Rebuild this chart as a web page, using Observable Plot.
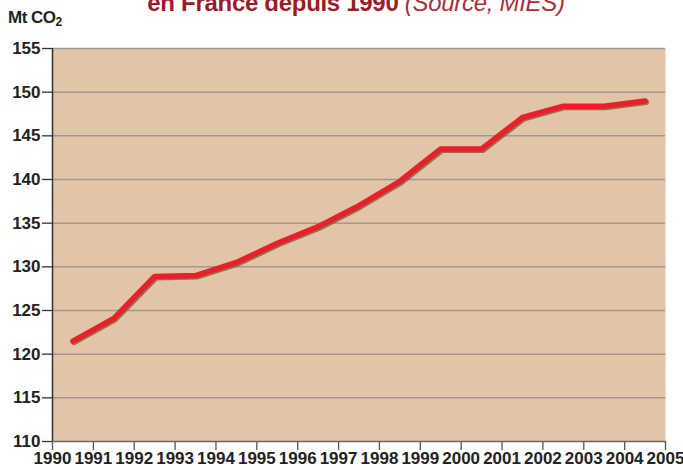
<!DOCTYPE html>
<html>
<head>
<meta charset="utf-8">
<script src="https://cdn.jsdelivr.net/npm/d3@7"></script>
<script src="https://cdn.jsdelivr.net/npm/@observablehq/plot@0.6"></script>
<style>
  html, body { margin: 0; padding: 0; background: #fff; }
  #wrap { position: relative; width: 683px; height: 470px; overflow: hidden; }
  #title { position: absolute; left: 0; width: 712px; top: -9px; text-align: center;
           font-family: "Liberation Sans", sans-serif; font-size: 24px; line-height: 24px;
           color: #9b1b2a; white-space: nowrap; letter-spacing: -0.3px; }
  #title b { font-weight: bold; }
  #title i { font-weight: normal; font-style: italic; color: #a8303a; }
  #ylab { position: absolute; left: 8px; top: 8px; font-family: "Liberation Sans", sans-serif;
          font-weight: bold; font-size: 17px; color: #222; letter-spacing: -0.5px; }
  #ylab sub { font-size: 12px; vertical-align: -3px; }
  #chart { position: absolute; left: 0; top: 0; }
</style>
</head>
<body>
<div id="wrap">
  <div id="chart"></div>
  <div id="title"><b>en France depuis 1990</b> <i>(Source, MIES)</i></div>
  <div id="ylab">Mt CO<sub>2</sub></div>
</div>
<script>
const years = [1990, 1991, 1992, 1993, 1994, 1995, 1996, 1997, 1998, 1999, 2000, 2001, 2002, 2003, 2004];
const emissions = [121.5, 124.1, 128.9, 129.0, 130.5, 132.7, 134.6, 137.0, 139.8, 143.5, 143.5, 147.1, 148.4, 148.4, 149.0];
const xTicks = [1990, 1991, 1992, 1993, 1994, 1995, 1996, 1997, 1998, 1999, 2000, 2001, 2002, 2003, 2004, 2005];
const yTicks = [110, 115, 120, 125, 130, 135, 140, 145, 150, 155];

const data = years.map((y, i) => ({year: y, value: emissions[i]}));
const xMid = d => d.year + 0.5;

const chart = Plot.plot({
  width: 683,
  height: 470,
  marginTop: 48,
  marginBottom: 29,
  marginLeft: 52,
  marginRight: 18,
  style: {fontFamily: "Liberation Sans, sans-serif", fontWeight: "bold", fontSize: "17px", color: "#222", background: "transparent"},
  x: {domain: [1990, 2005]},
  y: {domain: [110, 155]},
  marks: [
    Plot.frame({fill: "#e2c4a7", stroke: null}),
    Plot.ruleY(yTicks.filter(d => d > 110), {stroke: "#9a9a9a", strokeWidth: 1.5}),
    Plot.axisY({ticks: yTicks, tickSize: 10, tickPadding: 2, label: null, tickFormat: d => String(d), stroke: "#333", strokeWidth: 1.3, letterSpacing: -0.6}),
    Plot.axisX({ticks: xTicks, tickSize: 9, tickPadding: 1, label: null, tickFormat: d => String(d), stroke: "#555", strokeWidth: 1.3}),
    Plot.ruleX([1990], {stroke: "#333", strokeWidth: 1.5}),
    Plot.ruleY([110], {stroke: "#666", strokeWidth: 1.5}),
    Plot.line(data, {x: xMid, y: "value", stroke: "#7d5c3c", strokeWidth: 5.5, dx: 1.3, dy: 1.3, strokeOpacity: 0.8}),
    Plot.line(data, {x: xMid, y: "value", stroke: "#e8202a", strokeWidth: 5.5})
  ]
});
document.getElementById("chart").appendChild(chart);
</script>
</body>
</html>
